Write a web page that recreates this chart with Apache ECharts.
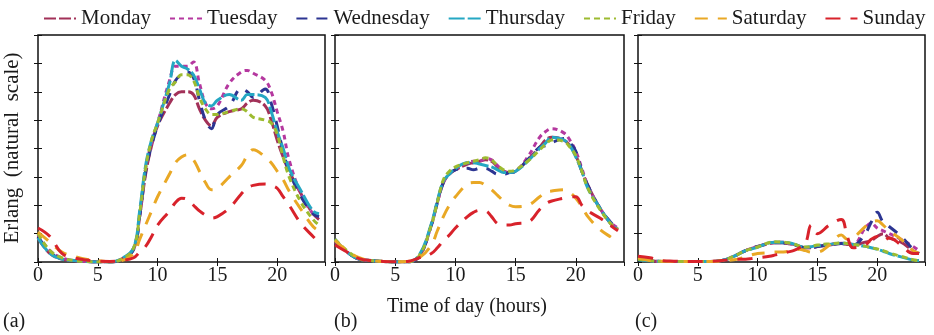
<!DOCTYPE html>
<html>
<head>
<meta charset="utf-8">
<script src="https://cdn.jsdelivr.net/npm/echarts@6/dist/echarts.min.js"></script>
<style>
  html, body { margin: 0; padding: 0; background: #fff; }
  #chart { width: 934px; height: 335px; }
</style>
</head>
<body>
<div id="chart"></div>
<script>
const days = ["Monday", "Tuesday", "Wednesday", "Thursday", "Friday", "Saturday", "Sunday"];
const colors = ["#a23158", "#b5389f", "#2c3592", "#25a7c3", "#9dbb30", "#e9a825", "#d8222b"];
const dashes = [[12, 3], [5, 4], [11, 9], [16, 3], [6, 4], [13, 10], [15, 10]];
const xTicks = [0, 5, 10, 15, 20];
const panelLabels = ["(a)", "(b)", "(c)"];

const hours = [0, 1, 2, 3, 4, 5, 6, 7, 8, 8.5, 9, 9.5, 10, 11, 11.5, 12, 12.5, 13, 13.5, 14, 14.5, 15, 16, 17, 17.5, 18, 19, 19.5, 20, 20.5, 21, 22, 23, 23.5];

// panel (a)
const aMonday    = [0.85, 0.3, 0.1, 0.05, 0.02, 0, 0, 0.1, 0.45, 1.6, 3.1, 4.1, 4.8, 5.6, 5.9, 6.0, 6.0, 5.9, 5.4, 5.0, 4.8, 5.1, 5.3, 5.4, 5.6, 5.7, 5.5, 5.0, 4.3, 3.7, 3.2, 2.4, 1.7, 1.5];
const aTuesday   = [0.95, 0.4, 0.15, 0.05, 0.02, 0, 0, 0.1, 0.5, 1.7, 3.3, 4.2, 4.9, 6.4, 6.9, 6.9, 6.9, 7.05, 6.3, 5.6, 5.4, 5.5, 6.3, 6.7, 6.75, 6.65, 6.4, 6.0, 5.3, 4.6, 3.6, 2.4, 1.7, 1.6];
const aWednesday = [0.9, 0.35, 0.1, 0.05, 0.02, 0, 0, 0.1, 0.45, 1.6, 3.2, 4.1, 4.8, 5.9, 6.4, 6.6, 6.7, 6.5, 5.7, 5.0, 4.7, 5.2, 5.5, 6.1, 6.0, 5.8, 6.1, 5.6, 4.8, 3.9, 3.2, 2.3, 1.7, 1.6];
const aThursday  = [0.85, 0.3, 0.1, 0.05, 0.02, 0, 0, 0.12, 0.5, 1.8, 3.4, 4.3, 4.9, 6.3, 7.1, 6.9, 6.8, 6.6, 6.1, 5.6, 5.5, 5.7, 5.9, 5.7, 5.9, 5.9, 5.8, 5.3, 4.6, 4.0, 3.3, 2.5, 1.8, 1.7];
const aFriday    = [1.0, 0.4, 0.15, 0.05, 0.02, 0, 0, 0.1, 0.5, 1.7, 3.3, 4.3, 4.9, 6.1, 6.35, 6.6, 6.6, 6.4, 5.8, 5.4, 5.2, 5.2, 5.3, 5.4, 5.3, 5.1, 5.0, 4.9, 4.5, 3.7, 3.0, 2.1, 1.5, 1.3];
const aSaturday  = [1.05, 0.7, 0.35, 0.2, 0.1, 0.05, 0.02, 0.05, 0.3, 0.8, 1.3, 1.8, 2.3, 3.1, 3.5, 3.7, 3.78, 3.6, 3.2, 2.8, 2.55, 2.6, 3.0, 3.4, 3.75, 3.96, 3.7, 3.5, 3.2, 2.9, 2.5, 1.85, 1.25, 1.1];
const aSunday    = [1.2, 0.9, 0.3, 0.15, 0.07, 0.03, 0.02, 0.05, 0.15, 0.35, 0.55, 0.9, 1.3, 1.8, 2.1, 2.25, 2.2, 2.0, 1.8, 1.65, 1.55, 1.6, 1.9, 2.4, 2.6, 2.7, 2.75, 2.7, 2.6, 2.3, 2.0, 1.35, 0.9, 0.7];

// panel (b)
const bMonday    = [0.7, 0.35, 0.1, 0.05, 0.02, 0, 0, 0.2, 1.3, 2.1, 2.8, 3.1, 3.25, 3.45, 3.5, 3.55, 3.6, 3.55, 3.35, 3.2, 3.15, 3.2, 3.6, 4.05, 4.3, 4.4, 4.3, 4.1, 3.75, 3.2, 2.7, 1.9, 1.3, 1.15];
const bTuesday   = [0.75, 0.35, 0.1, 0.05, 0.02, 0, 0, 0.2, 1.3, 2.1, 2.8, 3.15, 3.3, 3.5, 3.55, 3.55, 3.65, 3.6, 3.4, 3.2, 3.15, 3.2, 3.7, 4.4, 4.6, 4.7, 4.55, 4.3, 3.9, 3.3, 2.7, 1.9, 1.35, 1.2];
const bWednesday = [0.75, 0.35, 0.1, 0.05, 0.02, 0, 0, 0.2, 1.3, 2.1, 2.8, 3.1, 3.25, 3.3, 3.25, 3.3, 3.3, 3.2, 3.1, 3.1, 3.15, 3.2, 3.6, 4.05, 4.1, 4.2, 4.35, 4.2, 3.9, 3.2, 2.7, 1.9, 1.35, 1.2];
const bThursday  = [0.8, 0.35, 0.1, 0.05, 0.02, 0, 0, 0.25, 1.35, 2.15, 2.85, 3.1, 3.3, 3.5, 3.5, 3.45, 3.4, 3.35, 3.25, 3.15, 3.15, 3.2, 3.55, 4.0, 4.2, 4.4, 4.3, 4.1, 3.7, 3.2, 2.6, 1.9, 1.3, 1.15];
const bFriday    = [0.8, 0.4, 0.12, 0.05, 0.02, 0, 0, 0.22, 1.3, 2.1, 2.9, 3.2, 3.35, 3.5, 3.55, 3.6, 3.67, 3.6, 3.4, 3.25, 3.2, 3.25, 3.55, 3.95, 4.15, 4.3, 4.25, 4.05, 3.75, 3.2, 2.6, 1.85, 1.3, 1.15];
const bSaturday  = [0.75, 0.4, 0.15, 0.05, 0.02, 0.01, 0.02, 0.15, 0.6, 1.1, 1.6, 2.0, 2.3, 2.75, 2.8, 2.8, 2.7, 2.55, 2.35, 2.15, 2.0, 1.95, 2.0, 2.3, 2.45, 2.5, 2.55, 2.45, 2.25, 1.95, 1.6, 1.15, 0.85, 0.7];
const bSunday    = [0.6, 0.35, 0.12, 0.05, 0.02, 0.01, 0.02, 0.15, 0.3, 0.5, 0.75, 0.95, 1.2, 1.6, 1.75, 1.82, 1.8, 1.6, 1.35, 1.3, 1.3, 1.35, 1.4, 1.85, 2.05, 2.15, 2.25, 2.3, 2.3, 2.0, 1.8, 1.55, 1.25, 1.1];

// panel (c)
const cMonday    = [0.1, 0.05, 0.02, 0.02, 0.02, 0.02, 0.02, 0.05, 0.2, 0.3, 0.4, 0.48, 0.55, 0.65, 0.68, 0.68, 0.65, 0.62, 0.55, 0.5, 0.5, 0.55, 0.6, 0.65, 0.62, 0.6, 0.7, 0.75, 0.9, 1.0, 0.85, 0.7, 0.4, 0.3];
const cTuesday   = [0.1, 0.05, 0.02, 0.02, 0.02, 0.02, 0.02, 0.05, 0.2, 0.3, 0.4, 0.48, 0.55, 0.66, 0.7, 0.7, 0.66, 0.62, 0.55, 0.5, 0.5, 0.55, 0.62, 0.66, 0.64, 0.62, 1.2, 1.37, 1.2, 1.1, 1.0, 0.8, 0.55, 0.4];
const cWednesday = [0.1, 0.05, 0.02, 0.02, 0.02, 0.02, 0.02, 0.05, 0.2, 0.3, 0.4, 0.48, 0.55, 0.65, 0.68, 0.68, 0.65, 0.62, 0.55, 0.5, 0.5, 0.55, 0.6, 0.65, 0.62, 0.6, 1.0, 1.4, 1.75, 1.4, 1.25, 0.9, 0.45, 0.3];
const cThursday  = [0.08, 0.04, 0.02, 0.02, 0.02, 0.02, 0.02, 0.05, 0.2, 0.3, 0.4, 0.46, 0.52, 0.68, 0.7, 0.7, 0.68, 0.64, 0.56, 0.52, 0.54, 0.58, 0.62, 0.66, 0.65, 0.62, 0.55, 0.5, 0.45, 0.38, 0.3, 0.18, 0.07, 0.05];
const cFriday    = [0.1, 0.05, 0.02, 0.02, 0.02, 0.02, 0.02, 0.05, 0.2, 0.3, 0.4, 0.47, 0.53, 0.69, 0.71, 0.7, 0.68, 0.64, 0.56, 0.53, 0.55, 0.6, 0.64, 0.67, 0.65, 0.62, 0.56, 0.5, 0.46, 0.4, 0.32, 0.2, 0.08, 0.05];
const cSaturday  = [0.15, 0.05, 0.03, 0.02, 0.02, 0.02, 0.02, 0.03, 0.08, 0.12, 0.18, 0.25, 0.3, 0.33, 0.35, 0.35, 0.37, 0.4, 0.45, 0.4, 0.35, 0.35, 0.6, 0.95, 0.8, 0.85, 1.25, 1.4, 1.45, 1.3, 1.1, 0.8, 0.4, 0.3];
const cSunday    = [0.2, 0.15, 0.05, 0.03, 0.02, 0.02, 0.02, 0.05, 0.1, 0.1, 0.1, 0.12, 0.15, 0.2, 0.25, 0.3, 0.35, 0.4, 0.5, 0.65, 1.3, 1.0, 1.3, 1.5, 0.9, 0.5, 0.6, 0.8, 0.9, 0.75, 0.85, 0.6, 0.3, 0.3];

const panels = [
  [aMonday, aTuesday, aWednesday, aThursday, aFriday, aSaturday, aSunday],
  [bMonday, bTuesday, bWednesday, bThursday, bFriday, bSaturday, bSunday],
  [cMonday, cTuesday, cWednesday, cThursday, cFriday, cSaturday, cSunday],
];

const gridBoxes = [
  { left: 38, width: 287 },
  { left: 335, width: 289 },
  { left: 638, width: 287 },
];

const font = "Liberation Serif";
const textColor = "#1a1a1a";

const chart = echarts.init(document.getElementById("chart"), null, { renderer: "canvas" });

const grid = [];
const xAxis = [];
const yAxis = [];
const series = [];

gridBoxes.forEach((box, p) => {
  grid.push({ left: box.left, width: box.width, top: 35, height: 227, show: true, borderColor: "#111", borderWidth: 1.5, backgroundColor: "#fff" });
  const xBase = { gridIndex: p, type: "value", min: 0, max: 24, interval: 5, splitLine: { show: false }, axisLine: { show: false } };
  xAxis.push({
    ...xBase,
    position: "bottom",
    axisTick: { inside: true, length: 4, lineStyle: { color: "#111" } },
    axisLabel: { color: textColor, fontFamily: font, fontSize: 20, margin: 4, showMaxLabel: false },
  });
  xAxis.push({
    ...xBase,
    position: "top",
    axisTick: { inside: true, length: 4, lineStyle: { color: "#111" } },
    axisLabel: { show: false },
  });
  const yBase = { gridIndex: p, type: "value", min: 0, max: 8, interval: 1, splitLine: { show: false }, axisLine: { show: false }, axisLabel: { show: false } };
  yAxis.push({ ...yBase, position: "left", axisTick: { inside: true, length: 4, lineStyle: { color: "#111" } } });
  yAxis.push({ ...yBase, position: "right", axisTick: { inside: true, length: 4, lineStyle: { color: "#111" } } });

  panels[p].forEach((vals, d) => {
    series.push({
      name: days[d],
      type: "line",
      xAxisIndex: p * 2,
      yAxisIndex: p * 2,
      data: hours.map((h, i) => [h, vals[i]]),
      smooth: 0.4,
      symbol: "none",
      clip: true,
      z: 2 + d,
      color: colors[d],
      lineStyle: { color: colors[d], width: 3, type: dashes[d], cap: "butt" },
    });
  });
});

chart.setOption({
  animation: false,
  backgroundColor: "#fff",
  legend: {
    data: days,
    top: 3,
    left: 38,
    width: 900,
    itemGap: 18,
    itemWidth: 32,
    itemHeight: 12,
    itemStyle: { opacity: 0 },
    textStyle: { color: textColor, fontFamily: font, fontSize: 21 },
  },
  grid,
  xAxis,
  yAxis,
  series,
  graphic: [
    {
      type: "text",
      x: 12,
      y: 148,
      rotation: Math.PI / 2,
      style: { text: "Erlang  (natural  scale)", fill: textColor, font: `21px "${font}"`, textAlign: "center", textVerticalAlign: "middle" },
    },
    {
      type: "text",
      x: 467,
      y: 307,
      style: { text: "Time of day (hours)", fill: textColor, font: `20px "${font}"`, textAlign: "center", textVerticalAlign: "middle" },
    },
    ...panelLabels.map((t, i) => ({
      type: "text",
      x: [3, 334, 635][i],
      y: 322,
      style: { text: t, fill: textColor, font: `20px "${font}"`, textAlign: "left", textVerticalAlign: "middle" },
    })),
  ],
});
</script>
</body>
</html>
